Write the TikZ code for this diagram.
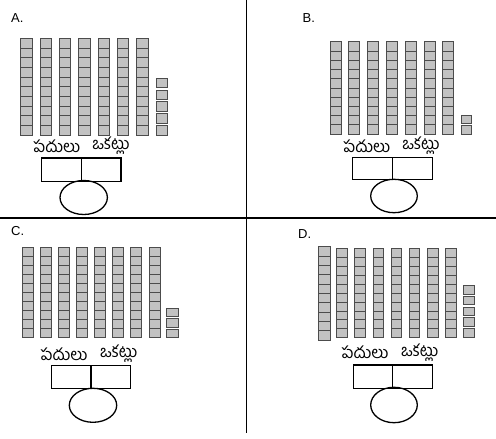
\documentclass[tikz,border=0pt]{standalone}
\usepackage{fontspec}
\setmainfont{Liberation Sans}
\newfontfamily\telugu[Script=Telugu]{Hind Guntur}
\tikzset{
  rodbox/.style={fill=black!24, draw=black!70, line width=0.9pt},
  rodline/.style={draw=black!70, line width=0.7pt},
  unitbox/.style={fill=black!24, draw=black!70, line width=0.9pt},
  placebox/.style={draw=black, line width=1.3pt},
  divider/.style={draw=black, line width=1.5pt},
  tlabel/.style={font=\telugu\fontsize{16.5}{19}\selectfont, inner sep=0pt},
  qlabel/.style={font=\fontsize{13}{15}\selectfont, inner sep=0pt, anchor=base west},
}
\newcommand\myrod[4]{% x, top, width, bottom
  \draw[rodbox] (#1,#2) rectangle (#1+#3,#4);
  \foreach \k in {1,...,9} {\draw[rodline] (#1,{#2+\k*(#4-#2)/10}) -- (#1+#3,{#2+\k*(#4-#2)/10});}
}
\newcommand\myunits[5]{% x, bottom, width, n, pitch
  \foreach \k in {1,...,#4} {\draw[unitbox] (#1,{#2-(\k-1)*#5}) rectangle (#1+#3,{#2-\k*#5+2.2});}
}
\begin{document}
\begin{tikzpicture}[x=1pt,y=-1pt]
\useasboundingbox (0,0) rectangle (496,439);
% dividers
\draw[divider] (246.5,0) -- (246.5,433);
\draw[divider] (0,218) -- (496,218);
% ---------- A ----------
\node[qlabel] (la) at (11,22.7) {A.};
\foreach \i in {0,...,6} {\myrod{20.7+\i*19.33}{38.3}{11.5}{135}}
\myunits{156.7}{135}{11}{5}{11.8}
\node[tlabel] (ta1) at (56.7,146) {పదులు};
\node[tlabel] (ta2) at (111,146) {ఒకట్లు};
\node[placebox, minimum width=40pt, minimum height=23.7pt, inner sep=0pt] (ba1) at (61.7,169.85) {};
\node[placebox, minimum width=39.3pt, minimum height=23.7pt, inner sep=0pt] (ba2) at (101.35,169.85) {};
\draw[placebox] (83.7,197.5) ellipse [x radius=23.7, y radius=17];
% ---------- B ----------
\node[qlabel] (lb) at (302.5,22.7) {B.};
\foreach \i in {0,...,6} {\myrod{330+\i*18.8}{41.7}{11}{134}}
\myunits{461}{134}{10.7}{2}{10.6}
\node[tlabel] (tb1) at (366.7,146) {పదులు};
\node[tlabel] (tb2) at (421,146) {ఒకట్లు};
\node[placebox, minimum width=39.6pt, minimum height=21.6pt, inner sep=0pt] (bb1) at (372.5,168.5) {};
\node[placebox, minimum width=40.4pt, minimum height=21.6pt, inner sep=0pt] (bb2) at (412.5,168.5) {};
\draw[placebox] (394,196) ellipse [x radius=23.3, y radius=16.7];
% ---------- C ----------
\node[qlabel] (lc) at (11,235.5) {C.};
\foreach \i in {0,...,7} {\myrod{22.3+\i*18.1}{247.7}{11}{337.7}}
\myunits{166.7}{337.7}{11.6}{3}{10.6}
\node[tlabel] (tc1) at (64,354) {పదులు};
\node[tlabel] (tc2) at (118.8,354) {ఒకట్లు};
\node[placebox, minimum width=39.3pt, minimum height=22.6pt, inner sep=0pt] (bc1) at (71.35,377) {};
\node[placebox, minimum width=39.7pt, minimum height=22.6pt, inner sep=0pt] (bc2) at (110.85,377) {};
\draw[placebox] (93,405.3) ellipse [x radius=23.7, y radius=17];
% ---------- D ----------
\node[qlabel] (ld) at (298,238.5) {D.};
\myrod{318.3}{246.7}{11.7}{340}
\foreach \i in {0,...,6} {\myrod{336.7+\i*18.17}{248.3}{10.5}{337.7}}
\myunits{463.3}{337.3}{10.7}{5}{10.8}
\node[tlabel] (td1) at (365,352.5) {పదులు};
\node[tlabel] (td2) at (419.7,352.5) {ఒకట్లు};
\node[placebox, minimum width=39pt, minimum height=23.3pt, inner sep=0pt] (bd1) at (372.8,376.65) {};
\node[placebox, minimum width=40pt, minimum height=23.3pt, inner sep=0pt] (bd2) at (412.3,376.65) {};
\draw[placebox] (394,405) ellipse [x radius=23.3, y radius=17.7];
\end{tikzpicture}
\end{document}
